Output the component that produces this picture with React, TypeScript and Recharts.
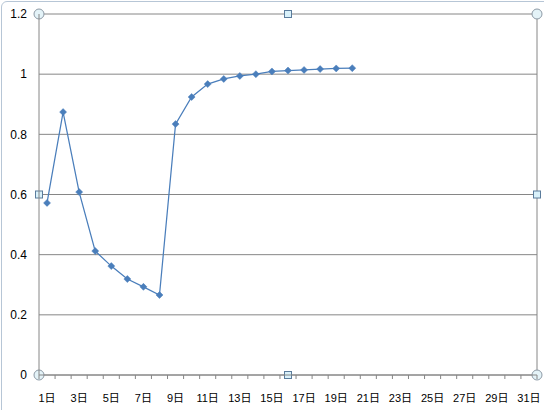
import { LineChart, Line, XAxis, YAxis, CartesianGrid, usePlotArea } from "recharts";

const days = Array.from({ length: 31 }, (_, i) => `${i + 1}日`);
const values: (number | null)[] = [
  0.572, 0.874, 0.608, 0.412, 0.362, 0.319, 0.293, 0.266, 0.834, 0.924,
  0.967, 0.984, 0.994, 1.0, 1.009, 1.012, 1.014, 1.017, 1.019, 1.02,
];
const yTicks = [0, 0.2, 0.4, 0.6, 0.8, 1, 1.2];

const data = days.map((d, i) => ({ day: d, v: i < values.length ? values[i] : null }));

const W = 544;
const H = 410;
const BLUE = "#4a7ebb";
const GRID = "#868686";
const FONT = "'Liberation Sans', 'Noto Sans CJK SC', sans-serif";

const Diamond = (props: any) => {
  const { cx, cy, value } = props;
  if (value == null || cx == null) return null;
  const s = 3.5;
  return (
    <polygon
      points={`${cx},${cy - s} ${cx + s},${cy} ${cx},${cy + s} ${cx - s},${cy}`}
      fill={BLUE}
      stroke={BLUE}
      strokeWidth={0.5}
    />
  );
};

const XTick = (props: any) => {
  const { x, y, payload } = props;
  const half = payload.offset || 8;
  const i = payload.index;
  return (
    <g>
      <line x1={x - half} y1={y} x2={x - half} y2={y + 4} stroke={GRID} />
      {i === days.length - 1 && (
        <line x1={x + half} y1={y} x2={x + half} y2={y + 4} stroke={GRID} />
      )}
      {i % 2 === 0 && (
        <text x={x} y={y + 27} textAnchor="middle" fontSize={11} fontFamily={FONT} fill="#000">
          {payload.value}
        </text>
      )}
    </g>
  );
};

// Excel-style selection handles and plot border on the right side
const Handles = () => {
  const area = usePlotArea();
  if (!area) return null;
  const { x, y, width, height } = area;
  const r = x + width;
  const b = y + height;
  const mx = x + width / 2;
  const my = y + height / 2;
  const circles = [[x, y], [r, y], [x, b], [r, b]];
  const squares = [[mx, y], [mx, b], [x, my], [r, my]];
  return (
    <g>
      <line x1={r} y1={y} x2={r} y2={b} stroke={GRID} />
      {circles.map(([cx, cy], i) => (
        <circle key={`c${i}`} cx={cx} cy={cy} r={5} fill="#e4f3f8" stroke="#8d9aa6" />
      ))}
      {squares.map(([cx, cy], i) => (
        <rect key={`s${i}`} x={cx - 3.5} y={cy - 3.5} width={7} height={7} fill="#d9f1fa" stroke="#5b7c9c" />
      ))}
    </g>
  );
};

export default function App() {
  return (
    <div style={{ position: "relative", width: W, height: H, overflow: "hidden", background: "#fff" }}>
      <style>{"body{margin:0}"}</style>
      <div
        style={{
          position: "absolute",
          left: 1,
          top: 1,
          width: W + 20,
          height: H + 20,
          border: "1px solid #b7c6d6",
          borderRadius: 6,
          boxSizing: "border-box",
        }}
      />
      <LineChart width={W} height={H} data={data} margin={{ top: 14, right: 7, left: 0, bottom: 0 }}>
        <CartesianGrid vertical={false} stroke={GRID} />
        <XAxis
          dataKey="day"
          scale="band"
          height={35}
          interval={0}
          tickLine={false}
          tickSize={0}
          tickMargin={0}
          axisLine={{ stroke: GRID }}
          tick={<XTick />}
        />
        <YAxis
          width={39}
          domain={[0, 1.2]}
          ticks={yTicks}
          tickLine={false}
          tickSize={0}
          tickMargin={12}
          axisLine={{ stroke: GRID }}
          tick={{ fontSize: 12, fontFamily: FONT, fill: "#000" }}
        />
        <Line
          type="linear"
          dataKey="v"
          stroke={BLUE}
          strokeWidth={1.25}
          dot={<Diamond />}
          activeDot={false}
          connectNulls={false}
          isAnimationActive={false}
        />
        <Handles />
      </LineChart>
    </div>
  );
}
